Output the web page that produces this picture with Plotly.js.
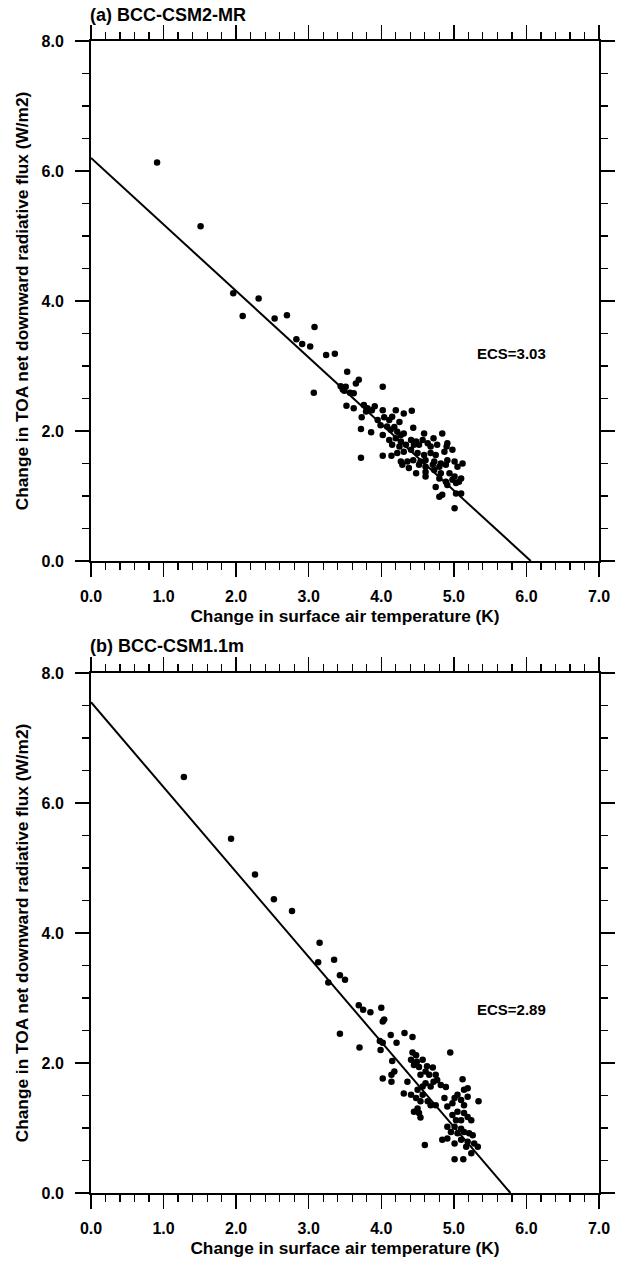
<!DOCTYPE html>
<html>
<head>
<meta charset="utf-8">
<script src="https://cdn.plot.ly/plotly-3.0.1.min.js"></script>
<style>
  html, body { margin: 0; padding: 0; background: #fff; }
  #chart { width: 625px; height: 1266px; }
</style>
</head>
<body>
<div id="chart"></div>
<script>
// ---------- Data ----------
// Panel (a) BCC-CSM2-MR
const tempA = [0.91,1.51,1.96,2.09,2.31,2.53,2.70,2.83,2.91,3.02,3.08,3.24,3.36,3.07,
  3.53,3.65,3.69,3.44,3.47,3.51,3.49,3.57,3.62,4.02,3.52,3.62,
  3.76,3.81,3.79,3.91,3.87,3.73,4.02,4.20,4.31,4.42,
  3.95,4.04,4.11,4.15,4.25,3.99,4.08,4.18,3.72,3.86,4.02,
  4.13,4.22,4.27,4.31,4.44,
  4.11,4.20,4.27,4.41,4.48,4.57,4.59,4.72,4.84,
  4.15,4.25,4.34,4.45,4.52,4.64,4.68,4.77,4.91,4.90,
  4.02,4.14,4.22,4.31,4.41,4.50,4.59,4.68,4.75,4.87,4.98,
  3.72,
  4.27,4.36,4.44,4.54,4.61,4.73,4.82,4.91,5.01,5.12,
  4.29,4.38,4.52,4.61,4.71,4.80,4.89,5.05,
  4.48,4.61,4.73,4.82,4.94,5.01,5.10,
  4.61,4.80,4.89,4.98,
  4.75,4.91,5.03,5.07,
  4.84,4.80,5.03,5.10,
  5.01];
const fluxA = [6.13,5.15,4.12,3.77,4.04,3.73,3.78,3.41,3.34,3.30,3.60,3.17,3.19,2.59,
  2.91,2.73,2.79,2.69,2.64,2.68,2.62,2.59,2.58,2.68,2.39,2.35,
  2.40,2.35,2.30,2.38,2.32,2.21,2.32,2.32,2.27,2.31,
  2.17,2.21,2.17,2.22,2.14,2.09,2.07,2.06,2.03,1.98,1.94,
  2.02,1.99,1.94,1.96,2.05,
  1.86,1.89,1.84,1.86,1.84,1.86,1.96,1.89,1.96,
  1.79,1.76,1.79,1.79,1.79,1.81,1.76,1.79,1.81,1.76,
  1.62,1.62,1.66,1.68,1.71,1.66,1.63,1.66,1.63,1.68,1.71,
  1.59,
  1.53,1.53,1.55,1.53,1.55,1.53,1.50,1.55,1.53,1.50,
  1.48,1.43,1.48,1.45,1.48,1.45,1.48,1.45,
  1.35,1.37,1.40,1.35,1.35,1.30,1.27,
  1.30,1.27,1.22,1.25,
  1.14,1.17,1.20,1.22,
  1.02,0.99,1.04,1.04,
  0.81];
const fitTempA = [0.0, 6.06];
const fitFluxA = [6.2, 0.0];
const ecsA = "ECS=3.03";
const titleA = "(a) BCC-CSM2-MR";

// Panel (b) BCC-CSM1.1m
const tempB = [1.28,1.93,2.26,2.52,2.77,3.15,3.13,3.35,3.43,3.50,3.27,
  3.69,3.75,3.85,4.00,4.04,4.02,3.43,4.13,4.32,4.43,3.98,4.02,4.21,3.70,3.99,4.95,
  4.43,4.48,4.41,4.49,4.45,4.57,4.52,4.63,4.71,4.61,4.54,4.66,4.75,4.77,4.72,4.61,4.57,4.68,4.82,4.89,
  4.15,4.18,4.14,4.14,4.02,4.36,5.12,5.19,5.14,
  4.31,4.41,4.50,4.48,4.57,4.54,4.64,4.68,4.75,4.87,4.91,4.98,5.01,5.05,5.10,5.14,5.19,5.34,
  4.45,4.50,4.54,4.52,
  5.05,5.14,5.19,4.98,5.03,5.10,5.24,
  4.91,5.01,5.10,4.96,5.05,5.14,5.21,5.26,
  4.84,4.91,5.01,5.10,5.19,5.28,5.33,
  4.60,
  5.17,5.24,
  5.01,5.13];
const fluxB = [6.40,5.45,4.90,4.52,4.34,3.85,3.55,3.59,3.35,3.28,3.24,
  2.89,2.82,2.78,2.85,2.67,2.64,2.45,2.43,2.46,2.40,2.34,2.31,2.31,2.24,2.20,2.16,
  2.16,2.12,2.05,2.02,1.97,2.05,1.94,1.95,1.93,1.87,1.82,1.82,1.82,1.74,1.71,1.69,1.64,1.64,1.66,1.63,
  2.03,1.87,1.82,1.71,1.76,1.71,1.75,1.61,1.59,
  1.53,1.51,1.59,1.46,1.51,1.41,1.41,1.35,1.35,1.46,1.33,1.38,1.46,1.51,1.43,1.35,1.48,1.41,
  1.25,1.30,1.16,1.23,
  1.25,1.23,1.17,1.20,1.12,1.12,1.12,
  1.02,1.02,0.99,0.94,0.92,0.94,0.92,0.89,
  0.82,0.84,0.76,0.82,0.79,0.76,0.71,
  0.74,
  0.71,0.61,
  0.52,0.52];
const fitTempB = [0.0, 5.78];
const fitFluxB = [7.55, 0.0];
const ecsB = "ECS=2.89";
const titleB = "(b) BCC-CSM1.1m";

const xTitle = "Change in surface air temperature (K)";
const yTitle = "Change in TOA net downward radiative flux (W/m2)";
const ecsPos = { a: [5.79, 3.2], b: [5.79, 2.82] };

// ---------- Styling ----------
const FONT = "Liberation Sans, Arial, Helvetica, sans-serif";
const tickFont = { family: FONT, size: 16, color: "#000", weight: "bold" };
const titleFont = { family: FONT, size: 17.3, color: "#000", weight: "bold" };
const textFont = { family: FONT, size: 18, color: "#000", weight: "bold" };
const ecsFont = { family: FONT, size: 15, color: "#000", weight: "bold" };

function xAxis(domain, anchor) {
  return {
    domain: domain, anchor: anchor, range: [0, 7],
    tick0: 0, dtick: 1, tickformat: ".1f",
    ticks: "outside", ticklen: 14, tickwidth: 1.5, tickcolor: "#000",
    minor: { dtick: 0.2, ticks: "outside", ticklen: 7, tickwidth: 1.2, tickcolor: "#000" },
    showline: true, linecolor: "#000", linewidth: 2, mirror: "ticks",
    showgrid: false, zeroline: false,
    tickfont: tickFont, ticklabelstandoff: 6,
    title: { text: xTitle, font: titleFont, standoff: 6 }
  };
}
function yAxis(domain, anchor) {
  return {
    domain: domain, anchor: anchor, range: [0, 8],
    tick0: 0, dtick: 2, tickformat: ".1f",
    ticks: "outside", ticklen: 14, tickwidth: 1.5, tickcolor: "#000",
    minor: { dtick: 0.5, ticks: "outside", ticklen: 7, tickwidth: 1.2, tickcolor: "#000" },
    showline: true, linecolor: "#000", linewidth: 2, mirror: "ticks",
    showgrid: false, zeroline: false,
    tickfont: tickFont, ticklabelstandoff: 8,
    title: { text: yTitle, font: titleFont, standoff: 8 }
  };
}

const W = 625, H = 1266;
const xDom = [91 / W, 599 / W];
const yDomA = [1 - 561 / H, 1 - 41 / H];
const yDomB = [1 - 1193 / H, 1 - 673 / H];

const markerStyle = { color: "#000", size: 6.5, line: { width: 0 } };
const lineStyle = { color: "#000", width: 2 };

const traces = [
  { x: tempA, y: fluxA, type: "scatter", mode: "markers", marker: markerStyle, xaxis: "x", yaxis: "y", name: "BCC-CSM2-MR" },
  { x: fitTempA, y: fitFluxA, type: "scatter", mode: "lines", line: lineStyle, xaxis: "x", yaxis: "y", name: "fit (a)" },
  { x: tempB, y: fluxB, type: "scatter", mode: "markers", marker: markerStyle, xaxis: "x2", yaxis: "y2", name: "BCC-CSM1.1m" },
  { x: fitTempB, y: fitFluxB, type: "scatter", mode: "lines", line: lineStyle, xaxis: "x2", yaxis: "y2", name: "fit (b)" }
];

const layout = {
  width: W, height: H,
  margin: { l: 0, r: 0, t: 0, b: 0 },
  paper_bgcolor: "#fff", plot_bgcolor: "#fff",
  showlegend: false,
  font: { family: FONT, color: "#000" },
  xaxis: xAxis(xDom, "y"),
  yaxis: yAxis(yDomA, "x"),
  xaxis2: xAxis(xDom, "y2"),
  yaxis2: yAxis(yDomB, "x2"),
  annotations: [
    { text: titleA, xref: "paper", yref: "paper", x: 88 / W, y: 1 - 15 / H, xanchor: "left", yanchor: "middle", showarrow: false, font: textFont },
    { text: titleB, xref: "paper", yref: "paper", x: 88 / W, y: 1 - 646 / H, xanchor: "left", yanchor: "middle", showarrow: false, font: textFont },
    { text: ecsA, xref: "x", yref: "y", x: ecsPos.a[0], y: ecsPos.a[1], showarrow: false, font: ecsFont },
    { text: ecsB, xref: "x2", yref: "y2", x: ecsPos.b[0], y: ecsPos.b[1], showarrow: false, font: ecsFont }
  ]
};

Plotly.newPlot("chart", traces, layout, { staticPlot: true, displayModeBar: false });
</script>
</body>
</html>
